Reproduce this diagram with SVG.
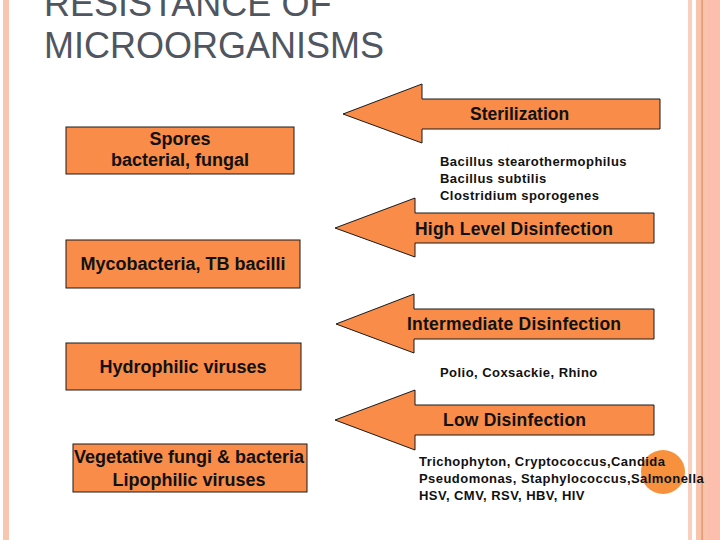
<svg xmlns="http://www.w3.org/2000/svg" width="720" height="540" viewBox="0 0 720 540">
<style>
.box{fill:#F88C48;stroke:#1a1a1a;stroke-width:1}
.arr{fill:#F88C48;stroke:#1a1a1a;stroke-width:1;stroke-linejoin:miter}
.lbl{font-family:"Liberation Sans",Arial,sans-serif;font-weight:bold;font-size:18px;fill:#111;text-anchor:middle}
.alb{font-family:"Liberation Sans",Arial,sans-serif;font-weight:bold;font-size:17.5px;fill:#111}
.sm{font-family:"Liberation Sans",Arial,sans-serif;font-weight:bold;font-size:13px;fill:#111;letter-spacing:0.45px}
.title{font-family:"Liberation Sans",Arial,sans-serif;font-size:36px;fill:#50565f}
</style>
<rect width="720" height="540" fill="#ffffff"/>
<g id="decor">
<rect x="3" y="0" width="6" height="540" fill="#f8c5b0"/>
<rect x="688" y="0" width="4" height="540" fill="#f9d0bd"/>
<rect x="696" y="0" width="24" height="540" fill="#f9c4ad"/>
<rect x="708" y="0" width="12" height="540" fill="#fcbfae"/>
<rect x="701.5" y="0" width="1.2" height="540" fill="#e0895a"/>
</g>
<g id="title">
<text class="title" x="44" y="16">RESISTANCE OF</text>
<text class="title" x="44" y="58">MICROORGANISMS</text>
</g>
<g id="connectors">
<path class="arr" d="M343,114 L422,84 L422,99 L660,99 L660,129 L422,129 L422,143 Z"/>
<path class="arr" d="M335,228 L415,198 L415,213 L654,213 L654,243 L415,243 L415,257 Z"/>
<path class="arr" d="M336,324 L414,294 L414,309 L654,309 L654,339 L414,339 L414,353 Z"/>
<path class="arr" d="M335,420 L415,390 L415,405 L654,405 L654,435 L415,435 L415,450 Z"/>
</g>
<g id="arrow-labels">
<text class="alb" x="470" y="120">Sterilization</text>
<text class="alb" x="415" y="235" textLength="198">High Level Disinfection</text>
<text class="alb" x="407" y="330" textLength="214">Intermediate Disinfection</text>
<text class="alb" x="443" y="426" textLength="143">Low Disinfection</text>
</g>
<g id="circle">
<circle cx="663" cy="472" r="22" fill="#F7913D"/>
</g>
<g id="examples">
<text class="sm" x="440" y="166">Bacillus stearothermophilus</text>
<text class="sm" x="440" y="183">Bacillus subtilis</text>
<text class="sm" x="440" y="200">Clostridium sporogenes</text>
<text class="sm" x="440" y="377">Polio, Coxsackie, Rhino</text>
<text class="sm" x="419" y="466">Trichophyton, Cryptococcus,Candida</text>
<text class="sm" x="419" y="483">Pseudomonas, Staphylococcus,Salmonella</text>
<text class="sm" x="419" y="500">HSV, CMV, RSV, HBV, HIV</text>
</g>
<g id="spores">
<rect class="box" x="66" y="127" width="228" height="47"/>
<text class="lbl" x="180" y="145">Spores</text>
<text class="lbl" x="180" y="166">bacterial, fungal</text>
</g>
<g id="mycobacteria">
<rect class="box" x="66" y="240" width="234" height="48"/>
<text class="lbl" x="183" y="270">Mycobacteria, TB bacilli</text>
</g>
<g id="hydrophilic">
<rect class="box" x="66" y="343" width="235" height="47"/>
<text class="lbl" x="183" y="373">Hydrophilic viruses</text>
</g>
<g id="vegetative">
<rect class="box" x="73" y="444" width="234" height="48"/>
<text class="lbl" x="189" y="463">Vegetative fungi &amp; bacteria</text>
<text class="lbl" x="189" y="486">Lipophilic viruses</text>
</g>
</svg>
